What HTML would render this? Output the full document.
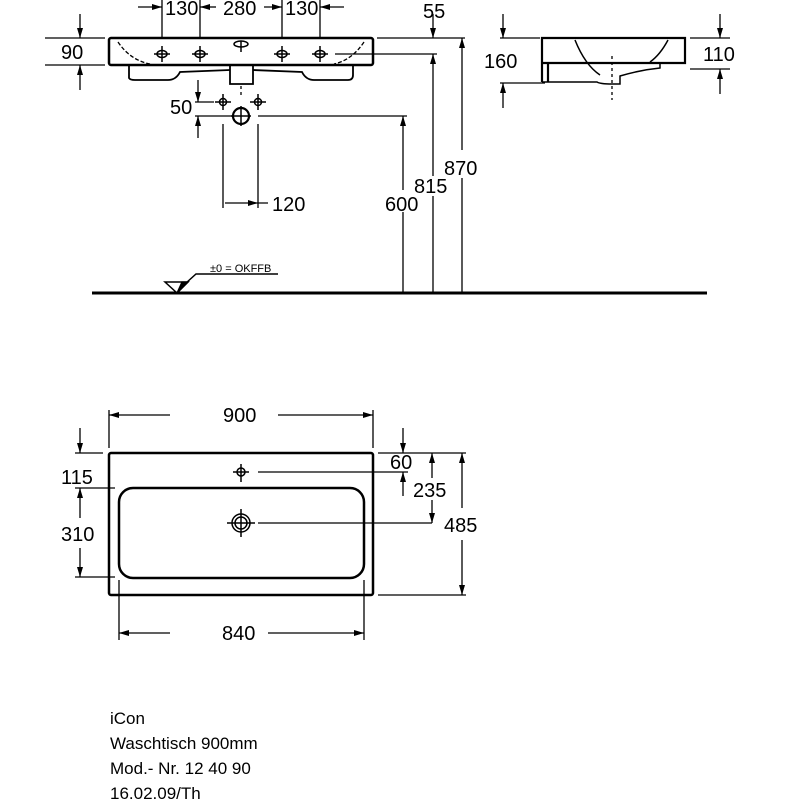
<!DOCTYPE html>
<html><head><style>body{margin:0;background:#fff}svg{display:block}text{font-family:"Liberation Sans",sans-serif;font-size:20px;fill:#000}</style></head><body>
<svg width="800" height="800" viewBox="0 0 800 800" xmlns="http://www.w3.org/2000/svg">
<defs><marker id="a" viewBox="0 0 10 6" refX="10" refY="3" markerWidth="10" markerHeight="6" orient="auto" markerUnits="userSpaceOnUse"><path d="M0,0L10,3L0,6z" fill="#000"/></marker></defs>
<g stroke="#000" fill="none" stroke-width="1.3">
<!-- front view -->
<rect x="109" y="38" width="264" height="27" rx="2" stroke-width="2.5"/>
<path d="M118,42 Q130,60 150,64 M364,42 Q352,60 334,64" stroke-dasharray="4,2"/>
<path d="M129,66 V78 Q130,80 135,80 H168 Q176,80 180,72 L230,70 M253,70 L302,72 Q306,80 314,80 H348 Q353,80 353,75 V66" stroke-width="1.8"/>
<path d="M230,66 V84 H253 V66" stroke-width="1.8"/>
<path d="M241,86 V98" stroke-dasharray="3,3"/>
<g stroke-width="1.5">
<ellipse cx="162" cy="54" rx="5" ry="3.5"/><path d="M154,54H170M162,46V62"/>
<ellipse cx="200" cy="54" rx="5" ry="3.5"/><path d="M192,54H208M200,46V62"/>
<ellipse cx="282" cy="54" rx="5" ry="3.5"/><path d="M274,54H290M282,46V62"/>
<ellipse cx="320" cy="54" rx="5" ry="3.5"/><path d="M312,54H328M320,46V62"/>
<ellipse cx="241" cy="44" rx="7" ry="3"/><path d="M241,41V52"/>
<circle cx="223" cy="102" r="3.5"/><path d="M215,102H231M223,94V110"/>
<circle cx="258" cy="102" r="3.5"/><path d="M250,102H266M258,94V110"/>
<circle cx="241" cy="116" r="8" stroke-width="2.2"/><path d="M231,116H251M241,106V126"/>
</g>
<path d="M162,0V38M200,0V38M282,0V38M320,0V38"/>
<g marker-end="url(#a)">
<path d="M138,7H162"/><path d="M216,7H200"/><path d="M264,7H282"/><path d="M344,7H320"/>
<path d="M80,14V38"/><path d="M80,90V65"/>
<path d="M433,14V38"/>
<path d="M433,176V54"/><path d="M462,150V38"/><path d="M403,190V116"/>
<path d="M198,80V102"/><path d="M198,138V116"/>
<path d="M225,203H258"/>
<path d="M503,14V38"/><path d="M503,108V83"/><path d="M720,14V38"/><path d="M720,94V69"/>
<path d="M170,415H109"/><path d="M278,415H373"/><path d="M170,633H119"/><path d="M268,633H364"/>
<path d="M80,428V453"/><path d="M80,518V488"/><path d="M80,548V577"/>
<path d="M403,428V453"/><path d="M403,496V472"/>
<path d="M432,478V453"/><path d="M432,500V523"/>
<path d="M462,508V453"/><path d="M462,540V595"/>
</g>
<path d="M105,38H45M105,65H45"/>
<path d="M377,38H465M335,54H437"/>
<path d="M433,196V293M462,178V293M403,212V293"/>
<path d="M195,102H214M195,116H232M258,116H407"/>
<path d="M223,124V208M258,124V208M258,203H268"/>
<!-- floor -->
<path d="M92,293H707" stroke-width="3"/>
<path d="M165,282H188L177,293Z" stroke-width="1.5"/><path d="M177,293L188,282H182Z" fill="#000"/>
<path d="M186,283L196,274H278" stroke-width="1.5"/>
<!-- side view -->
<path d="M542,82V38H685V63H542M548,63V82" stroke-width="2.2"/>
<path d="M542,82H597Q600,84 612,84H620V76Q640,70 660,68L660,63" stroke-width="1.5"/>
<path d="M575,40Q585,65 600,75M668,40Q660,55 650,62" stroke-width="1.5"/>
<path d="M612,56V100" stroke-dasharray="3,3"/>
<path d="M500,38H540M500,83H545M690,38H730M690,69H730"/>
<!-- plan -->
<rect x="109" y="453" width="264" height="142" rx="2" stroke-width="2.5"/>
<rect x="119" y="488" width="245" height="90" rx="14" stroke-width="2.5"/>
<g stroke-width="1.5">
<circle cx="241" cy="472" r="4"/><path d="M233,472H249M241,464V482"/>
<circle cx="241" cy="523" r="9"/><circle cx="241" cy="523" r="6"/><path d="M227,523H255M241,509V537"/>
</g>
<path d="M109,410V448M373,410V448M119,580V640M364,580V640"/>
<path d="M75,453H103M75,488H115M75,577H115"/>
<path d="M258,472H408M258,523H432M378,453H466M378,595H466"/>
</g>
<text x="165" y="15">130</text><text x="223" y="15">280</text><text x="285" y="15">130</text>
<text x="423" y="18">55</text>
<text x="61" y="59">90</text>
<text x="170" y="114">50</text>
<text x="272" y="211">120</text>
<text x="444" y="175">870</text><text x="414" y="193">815</text><text x="385" y="211">600</text>
<text x="210" y="272" style="font-size:11px">±0 = OKFFB</text>
<text x="484" y="68">160</text><text x="703" y="61">110</text>
<text x="223" y="422">900</text><text x="222" y="640">840</text>
<text x="61" y="484">115</text><text x="61" y="541">310</text>
<text x="390" y="469">60</text><text x="413" y="497">235</text><text x="444" y="532">485</text>
<text x="110" y="724" style="font-size:17px">iCon</text><text x="110" y="749" style="font-size:17px">Waschtisch 900mm</text><text x="110" y="774" style="font-size:17px">Mod.- Nr. 12 40 90</text><text x="110" y="799" style="font-size:17px">16.02.09/Th</text>
</svg>
</body></html>
